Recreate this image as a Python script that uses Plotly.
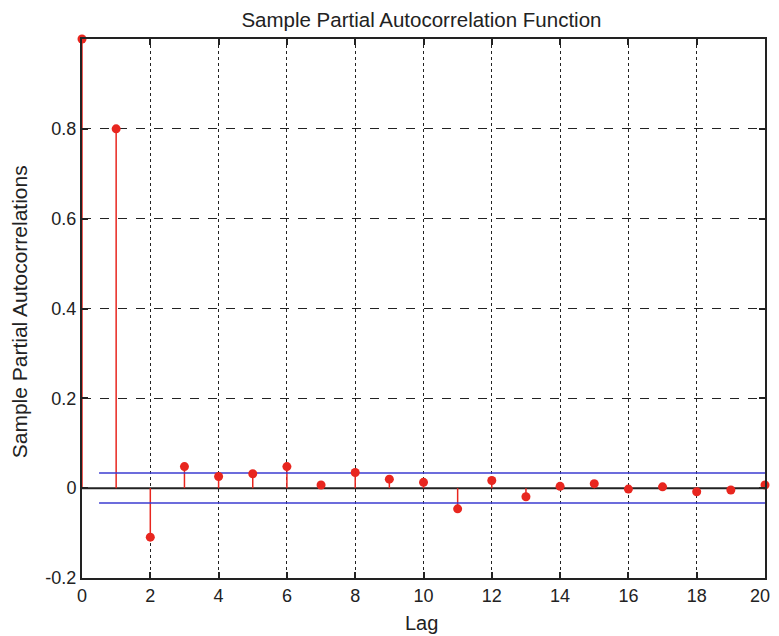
import plotly.graph_objects as go

lags = list(range(0, 21))
pacf = [1.0, 0.80, -0.109, 0.048, 0.026, 0.032, 0.048, 0.007, 0.035, 0.020,
        0.013, -0.046, 0.017, -0.019, 0.004, 0.010, -0.002, 0.003, -0.008, -0.004, 0.007]
upper_bound = 0.034
lower_bound = -0.033
bound_x = [0.5, 20]
x_ticks = list(range(0, 21, 2))
x_tick_labels = ["0", "2", "4", "6", "8", "10", "12", "14", "16", "18", "20\u00a0\u00a0"]
y_ticks = [-0.2, 0, 0.2, 0.4, 0.6, 0.8]
y_tick_labels = ["-0.2", "0", "0.2", "0.4", "0.6", "0.8"]

stem_x, stem_y = [], []
for l, v in zip(lags, pacf):
    stem_x += [l, l, None]
    stem_y += [0, v, None]

red = "#e8261f"
blue = "#3b3bd0"
ink = "#222222"

fig = go.Figure()
fig.add_trace(go.Scatter(x=[0, 20], y=[0, 0], mode="lines",
                         line=dict(color=ink, width=2), hoverinfo="skip"))
fig.add_trace(go.Scatter(x=stem_x, y=stem_y, mode="lines",
                         line=dict(color=red, width=1.5), hoverinfo="skip"))
fig.add_trace(go.Scatter(x=bound_x, y=[upper_bound] * 2, mode="lines",
                         line=dict(color=blue, width=1.5)))
fig.add_trace(go.Scatter(x=bound_x, y=[lower_bound] * 2, mode="lines",
                         line=dict(color=blue, width=1.5)))
fig.add_trace(go.Scatter(x=lags, y=pacf, mode="markers", cliponaxis=False,
                         marker=dict(color=red, size=9)))

font = "Liberation Sans, Arial, sans-serif"
fig.update_layout(
    width=771, height=628,
    paper_bgcolor="white", plot_bgcolor="white",
    showlegend=False,
    margin=dict(l=74, r=14, t=31, b=58),
    font=dict(family=font, size=18, color=ink),
    title=dict(text="Sample Partial Autocorrelation Function", xref="paper", x=0.497,
               xanchor="center", yref="container", y=0.981, yanchor="middle",
               font=dict(size=20.5, color=ink)),
    annotations=[
        dict(text="Sample Partial Autocorrelations", textangle=-90,
             xref="paper", yref="paper", x=0, y=0.493, xanchor="center",
             yanchor="middle", xshift=-63, showarrow=False,
             font=dict(size=21, color=ink)),
        dict(text="Lag", xref="paper", yref="paper", x=0.497, y=0,
             xanchor="center", yanchor="middle", yshift=-45, showarrow=False,
             font=dict(size=20, color=ink)),
    ],
)
fig.update_xaxes(range=[0, 20], tickvals=x_ticks, ticktext=x_tick_labels,
                 ticks="inside", ticklen=6,
                 tickcolor=ink, tickwidth=1.5, ticklabeloverflow="allow",
                 showline=True, linecolor=ink, linewidth=2, mirror="ticks",
                 showgrid=True, gridcolor=ink, griddash="dot", gridwidth=1,
                 zeroline=False, automargin=False,
                 tickfont=dict(size=18))
fig.update_yaxes(range=[-0.2, 1.0], tickvals=y_ticks, ticktext=y_tick_labels,
                 ticks="inside", ticklen=6, tickcolor=ink, tickwidth=1.5,
                 showline=True, linecolor=ink, linewidth=2, mirror="ticks",
                 showgrid=True, gridcolor=ink, griddash="dash", gridwidth=1,
                 zeroline=False, automargin=False,
                 tickfont=dict(size=18))
fig.write_html("out.html")
